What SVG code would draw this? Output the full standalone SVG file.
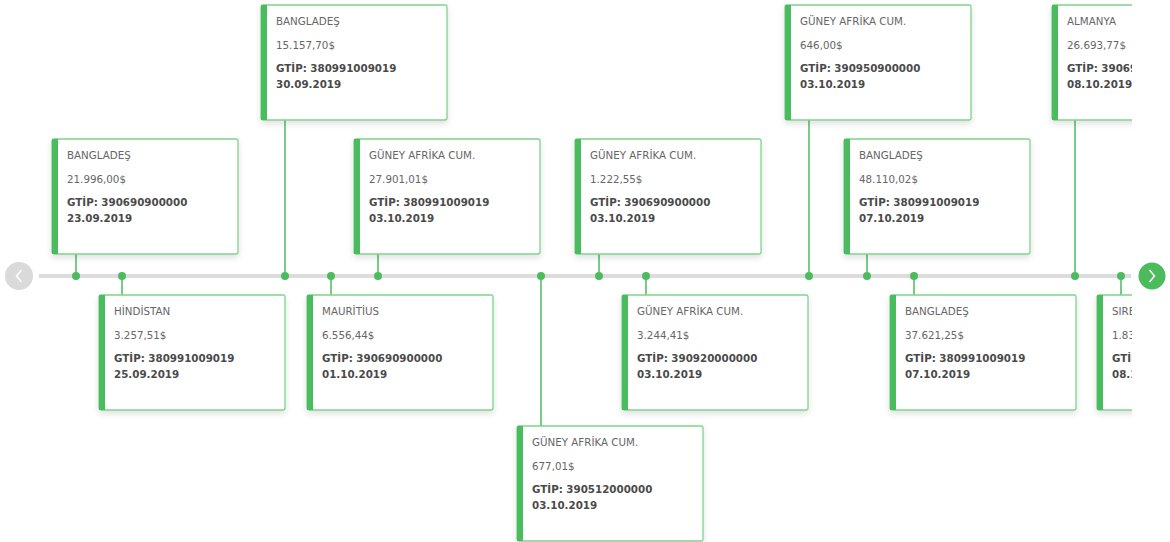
<svg xmlns="http://www.w3.org/2000/svg" width="1170" height="542" viewBox="0 0 1170 542">
<style>
.card{fill:#fff;stroke:#7fd48c;stroke-width:1.3}
.bar{fill:#4cbb5e}
.t{font-family:"DejaVu Sans","Liberation Sans",sans-serif;font-size:10.3px;fill:#666}
.b{font-family:"DejaVu Sans","Liberation Sans",sans-serif;font-size:10.3px;font-weight:bold;fill:#4a4a4a}
.conn{stroke:#4cbb5e;stroke-width:1.5;fill:none}
.dot{fill:#4cbb5e}
</style>
<defs>
<filter id="sh" x="-10%" y="-10%" width="120%" height="130%">
<feDropShadow dx="0" dy="3" stdDeviation="3" flood-color="#000" flood-opacity="0.12"/>
</filter>
<clipPath id="clip"><rect x="0" y="0" width="1132" height="542"/></clipPath>
<g id="cardtpl"><rect class="card" x="0" y="0" width="186" height="115" rx="2"/><rect class="bar" x="0" y="0" width="6" height="115"/></g>
</defs>
<rect width="1170" height="542" fill="#fff"/>
<g clip-path="url(#clip)">
<line x1="39" y1="276" x2="1131" y2="276" stroke="#dcdcdc" stroke-width="4"/>
<g id="connectors">
<line class="conn" x1="76" y1="254" x2="76" y2="276"/>
<line class="conn" x1="122" y1="276" x2="122" y2="295"/>
<line class="conn" x1="285" y1="119" x2="285" y2="276"/>
<line class="conn" x1="331" y1="276" x2="331" y2="295"/>
<line class="conn" x1="378" y1="254" x2="378" y2="276"/>
<line class="conn" x1="541" y1="276" x2="541" y2="426"/>
<line class="conn" x1="599" y1="254" x2="599" y2="276"/>
<line class="conn" x1="646" y1="276" x2="646" y2="295"/>
<line class="conn" x1="809" y1="119" x2="809" y2="276"/>
<line class="conn" x1="867" y1="254" x2="867" y2="276"/>
<line class="conn" x1="914" y1="276" x2="914" y2="295"/>
<line class="conn" x1="1075" y1="119" x2="1075" y2="276"/>
<line class="conn" x1="1121" y1="276" x2="1121" y2="295"/>
<circle class="dot" cx="76" cy="276" r="4"/>
<circle class="dot" cx="122" cy="276" r="4"/>
<circle class="dot" cx="285" cy="276" r="4"/>
<circle class="dot" cx="331" cy="276" r="4"/>
<circle class="dot" cx="378" cy="276" r="4"/>
<circle class="dot" cx="541" cy="276" r="4"/>
<circle class="dot" cx="599" cy="276" r="4"/>
<circle class="dot" cx="646" cy="276" r="4"/>
<circle class="dot" cx="809" cy="276" r="4"/>
<circle class="dot" cx="867" cy="276" r="4"/>
<circle class="dot" cx="914" cy="276" r="4"/>
<circle class="dot" cx="1075" cy="276" r="4"/>
<circle class="dot" cx="1121" cy="276" r="4"/>
</g>
<g id="n1" transform="translate(52,139)"><g filter="url(#sh)"><use href="#cardtpl"/></g><text class="t" x="15" y="20">BANGLADEŞ</text><text class="t" x="15" y="43.5">21.996,00$</text><text class="b" x="15" y="66.5">GTİP: 390690900000</text><text class="b" x="15" y="82.5">23.09.2019</text></g>
<g id="n2" transform="translate(99,295)"><g filter="url(#sh)"><use href="#cardtpl"/></g><text class="t" x="15" y="20">HİNDİSTAN</text><text class="t" x="15" y="43.5">3.257,51$</text><text class="b" x="15" y="66.5">GTİP: 380991009019</text><text class="b" x="15" y="82.5">25.09.2019</text></g>
<g id="n3" transform="translate(261,5)"><g filter="url(#sh)"><use href="#cardtpl"/></g><text class="t" x="15" y="20">BANGLADEŞ</text><text class="t" x="15" y="43.5">15.157,70$</text><text class="b" x="15" y="66.5">GTİP: 380991009019</text><text class="b" x="15" y="82.5">30.09.2019</text></g>
<g id="n4" transform="translate(307,295)"><g filter="url(#sh)"><use href="#cardtpl"/></g><text class="t" x="15" y="20">MAURİTİUS</text><text class="t" x="15" y="43.5">6.556,44$</text><text class="b" x="15" y="66.5">GTİP: 390690900000</text><text class="b" x="15" y="82.5">01.10.2019</text></g>
<g id="n5" transform="translate(354,139)"><g filter="url(#sh)"><use href="#cardtpl"/></g><text class="t" x="15" y="20">GÜNEY AFRİKA CUM.</text><text class="t" x="15" y="43.5">27.901,01$</text><text class="b" x="15" y="66.5">GTİP: 380991009019</text><text class="b" x="15" y="82.5">03.10.2019</text></g>
<g id="n6" transform="translate(517,426)"><g filter="url(#sh)"><use href="#cardtpl"/></g><text class="t" x="15" y="20">GÜNEY AFRİKA CUM.</text><text class="t" x="15" y="43.5">677,01$</text><text class="b" x="15" y="66.5">GTİP: 390512000000</text><text class="b" x="15" y="82.5">03.10.2019</text></g>
<g id="n7" transform="translate(575,139)"><g filter="url(#sh)"><use href="#cardtpl"/></g><text class="t" x="15" y="20">GÜNEY AFRİKA CUM.</text><text class="t" x="15" y="43.5">1.222,55$</text><text class="b" x="15" y="66.5">GTİP: 390690900000</text><text class="b" x="15" y="82.5">03.10.2019</text></g>
<g id="n8" transform="translate(622,295)"><g filter="url(#sh)"><use href="#cardtpl"/></g><text class="t" x="15" y="20">GÜNEY AFRİKA CUM.</text><text class="t" x="15" y="43.5">3.244,41$</text><text class="b" x="15" y="66.5">GTİP: 390920000000</text><text class="b" x="15" y="82.5">03.10.2019</text></g>
<g id="n9" transform="translate(785,5)"><g filter="url(#sh)"><use href="#cardtpl"/></g><text class="t" x="15" y="20">GÜNEY AFRİKA CUM.</text><text class="t" x="15" y="43.5">646,00$</text><text class="b" x="15" y="66.5">GTİP: 390950900000</text><text class="b" x="15" y="82.5">03.10.2019</text></g>
<g id="n10" transform="translate(844,139)"><g filter="url(#sh)"><use href="#cardtpl"/></g><text class="t" x="15" y="20">BANGLADEŞ</text><text class="t" x="15" y="43.5">48.110,02$</text><text class="b" x="15" y="66.5">GTİP: 380991009019</text><text class="b" x="15" y="82.5">07.10.2019</text></g>
<g id="n11" transform="translate(890,295)"><g filter="url(#sh)"><use href="#cardtpl"/></g><text class="t" x="15" y="20">BANGLADEŞ</text><text class="t" x="15" y="43.5">37.621,25$</text><text class="b" x="15" y="66.5">GTİP: 380991009019</text><text class="b" x="15" y="82.5">07.10.2019</text></g>
<g id="n12" transform="translate(1052,5)"><g filter="url(#sh)"><use href="#cardtpl"/></g><text class="t" x="15" y="20">ALMANYA</text><text class="t" x="15" y="43.5">26.693,77$</text><text class="b" x="15" y="66.5">GTİP: 390690900000</text><text class="b" x="15" y="82.5">08.10.2019</text></g>
<g id="n13" transform="translate(1097,295)"><g filter="url(#sh)"><use href="#cardtpl"/></g><text class="t" x="15" y="20">SIRBİSTAN</text><text class="t" x="15" y="43.5">1.834,00$</text><text class="b" x="15" y="66.5">GTİP: 390690900000</text><text class="b" x="15" y="82.5">08.10.2019</text></g>
</g>
<g id="prev"><circle cx="19" cy="276" r="14" fill="#dadada"/><path d="M21.5 270 L16.5 276 L21.5 282" stroke="#fff" stroke-width="1.5" fill="none"/></g>
<g id="next"><circle cx="1152" cy="276" r="13.5" fill="#4cbb5e"/><path d="M1149.5 270 L1154.5 276 L1149.5 282" stroke="#fff" stroke-width="1.5" fill="none"/></g>
</svg>
